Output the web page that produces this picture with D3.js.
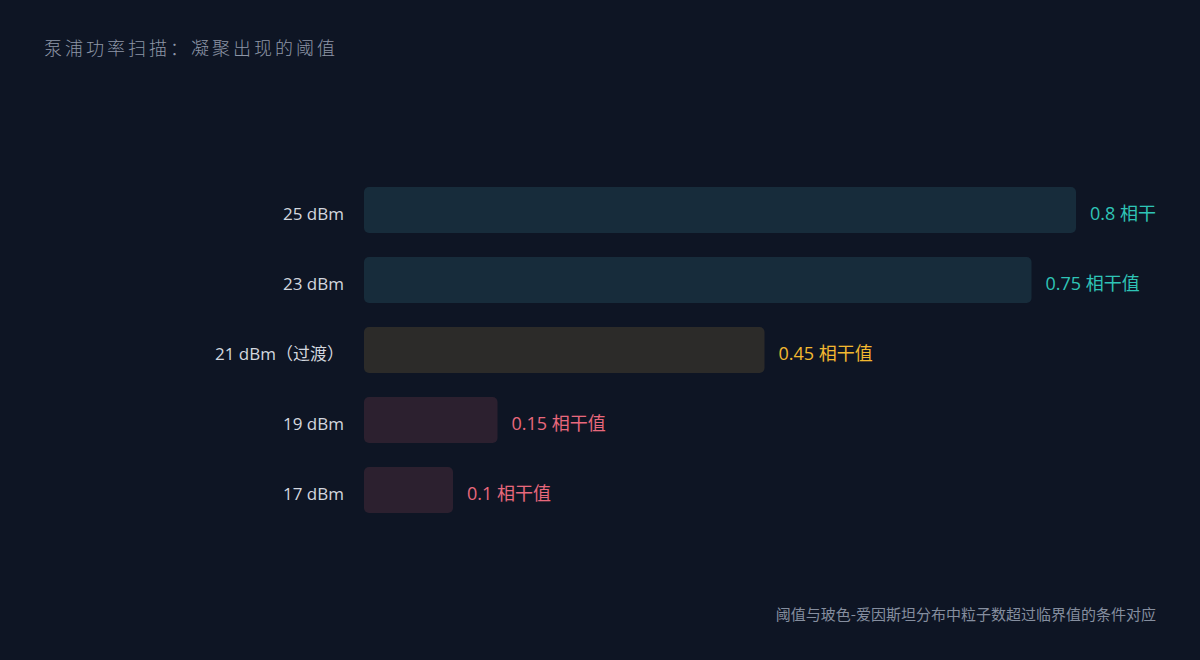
<!DOCTYPE html>
<html><head><meta charset="utf-8">
<script src="https://cdn.jsdelivr.net/npm/d3@7"></script>
<style>
html,body{margin:0;padding:0;background:#0e1524;}
svg{display:block;}
text{font-family:"Open Sans","Noto Sans CJK SC",sans-serif;}
</style></head>
<body><svg id="c" width="1200" height="660"></svg>
<script>
const categories = ["25 dBm","23 dBm","21 dBm（过渡）","19 dBm","17 dBm"];
const values = [0.8, 0.75, 0.45, 0.15, 0.1];
const valueLabels = ["0.8 相干","0.75 相干值","0.45 相干值","0.15 相干值","0.1 相干值"];
const groups = ["high","high","mid","low","low"];
const title = "泵浦功率扫描：凝聚出现的阈值";
const note = "阈值与玻色-爱因斯坦分布中粒子数超过临界值的条件对应";

const barFill = {high:"#172c3b", mid:"#2c2b29", low:"#2c202f"};
const textFill = {high:"#2ec4b6", mid:"#f2b830", low:"#e8687c"};

const svg = d3.select("#c");
svg.append("rect").attr("width",1200).attr("height",660).attr("fill","#0e1524");

const x = d3.scaleLinear().domain([0, 0.8]).range([364, 1076]);
const y = d3.scaleBand().domain(categories).range([175, 525]).paddingInner(24/70).paddingOuter(12/70);

svg.append("text").attr("x",44).attr("y",55).attr("fill","#8d96a7")
  .attr("font-size",18).attr("font-weight",300)
  .style("font-family","'Noto Sans CJK SC',sans-serif").style("letter-spacing","3px").text(title);

const rows = svg.append("g").selectAll("g").data(categories).join("g");
rows.append("rect")
  .attr("x", x(0)).attr("y", d=>y(d))
  .attr("width", (d,i)=>x(values[i])-x(0)).attr("height", y.bandwidth())
  .attr("rx",5).attr("fill",(d,i)=>barFill[groups[i]]);
rows.append("text")
  .attr("x", x(0)-20).attr("y", d=>y(d)+y.bandwidth()/2+4)
  .attr("dy","0.35em").attr("text-anchor","end")
  .attr("fill","#d3d7df").attr("font-size",17).text(d=>d);
rows.append("text")
  .attr("x",(d,i)=>x(values[i])+14).attr("y", d=>y(d)+y.bandwidth()/2+4)
  .attr("dy","0.35em").attr("fill",(d,i)=>textFill[groups[i]])
  .attr("font-size",18).text((d,i)=>valueLabels[i]);

svg.append("text").attr("x",1156).attr("y",620).attr("text-anchor","end")
  .attr("fill","#858e9f").attr("font-size",15).style("font-family","'Noto Sans CJK SC',sans-serif").text(note);
</script></body></html>
